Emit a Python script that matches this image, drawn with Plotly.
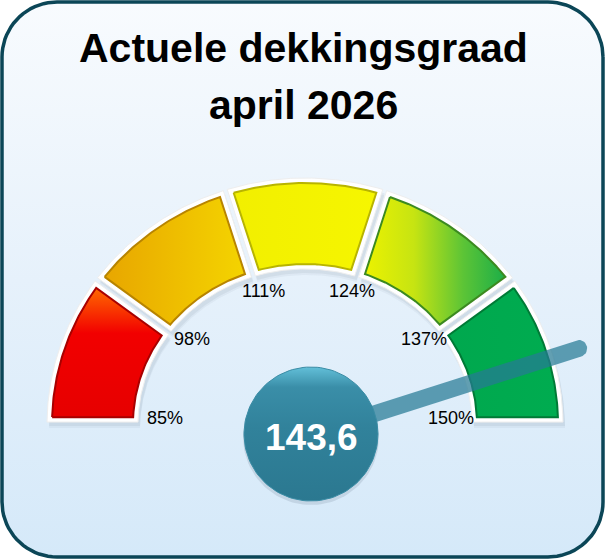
import numpy as np
import plotly.graph_objects as go

# gauge data
thresholds = [85, 98, 111, 124, 137, 150]
tick_labels = ["85%", "98%", "111%", "124%", "137%", "150%"]
value = 143.6
value_label = "143,6"
title_lines = ["Actuele dekkingsgraad", "april 2026"]

# band fills (gradient type, colours) and bevel edge colour
band_fills = [
    ("vertical", [[0, "#e60000"], [0.65, "#f20000"], [1, "#ff6a00"]], "#a80000"),
    ("horizontal", [[0, "#e8a600"], [1, "#f4d400"]], "#b88400"),
    ("horizontal", [[0, "#f2ef00"], [1, "#f6f600"]], "#b8b400"),
    ("horizontal", [[0, "#ecf200"], [0.35, "#c6e412"], [0.7, "#5cc436"], [1, "#1cae48"]], "#3c8a20"),
    ("horizontal", [[0, "#00a84e"], [1, "#00ac50"]], "#007a36"),
]

W, H = 605, 560
cx, cy = 305, H - 424          # gauge centre
ncx, ncy, nr = 311, H - 434, 67  # hub
FONT = "Liberation Sans, Arial"


def ang(v):
    return np.pi * (thresholds[-1] - v) / (thresholds[-1] - thresholds[0])


def band_path(t1, t2, ro, ri, d, n=60):
    rxo, ryo = ro
    rxi, ryi = ri
    do = d / ((rxo + ryo) / 2)
    di = d / ((rxi + ryi) / 2)
    to = np.linspace(t1 - do, t2 + do, n)
    ti = np.linspace(t2 + di, t1 - di, n)
    xs = np.concatenate([cx + rxo * np.cos(to), cx + rxi * np.cos(ti)])
    ys = np.concatenate([cy + ryo * np.sin(to), cy + ryi * np.sin(ti)])
    return np.append(xs, xs[0]), np.append(ys, ys[0])


def rounded_rect(x0, y0, x1, y1, r, n=20):
    xs, ys = [], []
    corners = [(x1 - r, y1 - r, 0), (x0 + r, y1 - r, 90), (x0 + r, y0 + r, 180), (x1 - r, y0 + r, 270)]
    for ccx, ccy, a0 in corners:
        t = np.radians(np.linspace(a0, a0 + 90, n))
        xs += list(ccx + r * np.cos(t))
        ys += list(ccy + r * np.sin(t))
    return xs + [xs[0]], ys + [ys[0]]


fig = go.Figure()

# card background
bx, by = rounded_rect(2, 3, 603, H - 2, 55)
fig.add_trace(go.Scatter(x=bx, y=by, mode="lines", fill="toself",
                         line=dict(color="#0b4657", width=3.5),
                         fillgradient=dict(type="vertical",
                                           colorscale=[[0, "#d5e9f9"], [0.5, "#e6f1fb"], [1, "#f8fbfe"]]),
                         hoverinfo="skip"))

angles = [ang(v) for v in thresholds]

# soft shadows
for k in range(len(angles) - 1):
    sx, sy = band_path(angles[k], angles[k + 1], (258, 246), (167, 155), 2)
    for off, a in [(6, 0.05), (4, 0.07)]:
        fig.add_trace(go.Scatter(x=sx + 2, y=sy - off, mode="lines", fill="toself",
                                 fillcolor="rgba(60,80,100,%s)" % a, line=dict(width=0),
                                 hoverinfo="skip"))

# white frames and coloured bands
for k in range(len(angles) - 1):
    wx, wy = band_path(angles[k], angles[k + 1], (258, 246), (167, 155), 2)
    fig.add_trace(go.Scatter(x=wx, y=wy, mode="lines", fill="toself", fillcolor="white",
                             line=dict(color="#eeeeee", width=1), hoverinfo="skip"))
    gtype, scale, edge = band_fills[k]
    px, pyy = band_path(angles[k], angles[k + 1], (253, 241), (172, 160), 7)
    fig.add_trace(go.Scatter(x=px, y=pyy, mode="lines", fill="toself",
                             fillgradient=dict(type=gtype, colorscale=scale),
                             line=dict(color=edge, width=2), hoverinfo="skip"))

# needle with rounded tip
tv = ang(value)
L, hw = 281, 8.5
ux, uy = np.cos(tv), np.sin(tv)
vx, vy = -uy, ux
tipx, tipy = ncx + L * ux, ncy + L * uy
cap = np.linspace(0, np.pi, 20)
nx = [ncx + hw * vx] + list(tipx + hw * (np.cos(cap) * vx + np.sin(cap) * ux)) + [ncx - hw * vx, ncx + hw * vx]
ny = [ncy + hw * vy] + list(tipy + hw * (np.cos(cap) * vy + np.sin(cap) * uy)) + [ncy - hw * vy, ncy + hw * vy]
fig.add_trace(go.Scatter(x=nx, y=ny, mode="lines", fill="toself",
                         fillcolor="rgba(38,122,148,0.72)", line=dict(width=0), hoverinfo="skip"))

# hub
t = np.linspace(0, 2 * np.pi, 120)
fig.add_trace(go.Scatter(x=ncx + (nr + 1) * np.cos(t), y=ncy - 3 + (nr + 1) * np.sin(t), mode="lines",
                         fill="toself", fillcolor="rgba(40,60,80,0.12)", line=dict(width=0),
                         hoverinfo="skip"))
fig.add_trace(go.Scatter(x=ncx + nr * np.cos(t), y=ncy + nr * np.sin(t), mode="lines", fill="toself",
                         fillgradient=dict(type="vertical",
                                           colorscale=[[0, "#2b7890"], [0.55, "#31829b"],
                                                       [0.85, "#3a8ea8"], [1, "#62bfd8"]]),
                         line=dict(color="#3a8ca5", width=1), hoverinfo="skip"))

# tick labels
for v, lab in zip(thresholds, tick_labels):
    a = ang(v)
    fig.add_annotation(x=cx + 3 + 143 * np.cos(a), y=cy + 6 + 134 * np.sin(a), text=lab,
                       showarrow=False, font=dict(family=FONT, size=18, color="black"),
                       xanchor="center", yanchor="middle")

fig.add_annotation(x=ncx, y=H - 437, text="<b>%s</b>" % value_label, showarrow=False,
                   font=dict(family=FONT, size=37, color="white"), xanchor="center", yanchor="middle")

for yy, line in zip([H - 48, H - 105], title_lines):
    fig.add_annotation(x=W / 2 + 1, y=yy, text="<b>%s</b>" % line, showarrow=False,
                       font=dict(family=FONT, size=41, color="black"), xanchor="center", yanchor="middle")

fig.update_layout(width=W, height=H, margin=dict(l=0, r=0, t=0, b=0),
                  paper_bgcolor="white", plot_bgcolor="rgba(0,0,0,0)", showlegend=False,
                  xaxis=dict(range=[0, W], visible=False, fixedrange=True),
                  yaxis=dict(range=[0, H], visible=False, fixedrange=True))

fig.write_html("out.html", config={"displayModeBar": False},
               post_script="document.body.style.margin='0';document.body.style.overflow='hidden';")
